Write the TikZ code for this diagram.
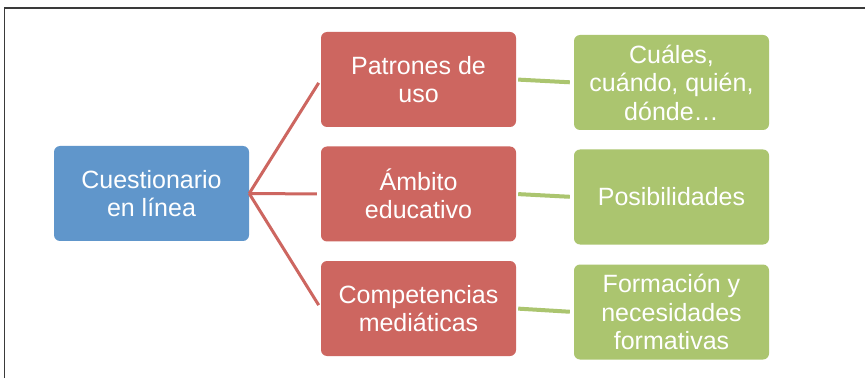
\documentclass[tikz,border=0pt]{standalone}
\usepackage{fontspec}
\setmainfont{Liberation Sans}
\definecolor{bxblue}{HTML}{6096CB}
\definecolor{bxred}{HTML}{CD6660}
\definecolor{bxgreen}{HTML}{ABC56F}
\definecolor{framegray}{HTML}{3A3A3A}
\tikzset{
  x=1pt, y=1pt,
  boxbase/.style={rectangle, rounded corners=6pt, minimum width=195pt, minimum height=95pt,
    inner sep=2pt, align=center, text=white,
    font=\fontsize{25}{28.5}\selectfont},
  bluebox/.style={boxbase, fill=bxblue},
  redbox/.style={boxbase, fill=bxred},
  greenbox/.style={boxbase, fill=bxgreen},
  redlink/.style={draw=bxred, line width=3pt, shorten >=4pt},
  greenlink/.style={draw=bxgreen, line width=4pt, shorten <=2pt, shorten >=4pt},
}
\begin{document}
\begin{tikzpicture}
\useasboundingbox (0,0) rectangle (865,378);
\fill[white] (0,0) rectangle (865,378);
\draw[framegray, line width=1.5pt] (4.5,0) -- (4.5,370) -- (865,370);

\node[bluebox] (cq) at (151.5,184.5) {Cuestionario\\en línea};

\node[redbox] (pu) at (418.5,298.5) {Patrones de\\uso};
\node[redbox] (ae) at (418.5,184) {Ámbito\\educativo};
\node[redbox] (cm) at (418.5,69.5) {Competencias\\mediáticas};

\node[greenbox] (cu) at (671.5,295.5) {Cuáles,\\cuándo, quién,\\dónde…};
\node[greenbox] (po) at (671.5,181) {Posibilidades};
\node[greenbox] (fo) at (671.5,66) {Formación y\\necesidades\\formativas};

\draw[redlink] (cq.east) -- (pu.west);
\draw[redlink] (cq.east) -- (ae.west);
\draw[redlink] (cq.east) -- (cm.west);

\draw[greenlink] (pu.east) -- (cu.west);
\draw[greenlink] (ae.east) -- (po.west);
\draw[greenlink] (cm.east) -- (fo.west);
\end{tikzpicture}
\end{document}
